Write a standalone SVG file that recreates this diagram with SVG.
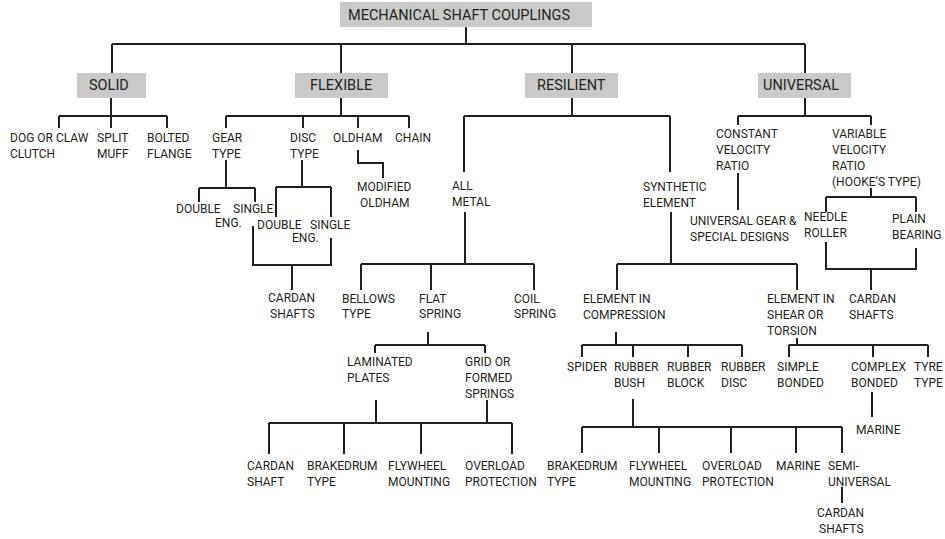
<svg xmlns="http://www.w3.org/2000/svg" width="945" height="539" viewBox="0 0 945 539">
<style>
text{font-family:Roboto,"Liberation Sans",sans-serif;font-size:12px;fill:#231f20}
.big{font-size:14.5px}
.box{fill:#c9c9c9}
#connectors path{fill:none;stroke:#231f20;stroke-width:2}
</style>
<rect width="945" height="539" fill="#fff"/>
<g id="connectors">
<path d="M466,27V44M112,44H805M112,44V73M341,44V73M572,44V73M805,44V73"/>
<path d="M111,98V116M59,116H167M59,116V128M111,116V128M167,116V128"/>
<path d="M341,98V116M226,116H409M226,116V128M303,116V128M358,116V128M409,116V128"/>
<path d="M226,160V188M199,188H255M199,188V202M255,188V202"/>
<path d="M302,160V187M276,187H331M276,187V217M331,187V217"/>
<path d="M253,226V265H331V238M292,265V290"/>
<path d="M358,150V163H383V178"/>
<path d="M572,98V116M464,116H670M464,116V172M670,116V172"/>
<path d="M465,212V264M361,264H534M361,264V290M431,264V290M534,264V290"/>
<path d="M428,332V345M375,345H485M375,345V353M485,345V353"/>
<path d="M376,400V423M487,400V423M269,423H512M269,423V454M344,423V454M421,423V454M512,423V454"/>
<path d="M671,212V264M617,264H797M617,264V290M797,264V290"/>
<path d="M616,332V345M582,345H742M582,345V357M633,345V357M688,345V357M742,345V357"/>
<path d="M797,338V345M789,345H928M789,345V357M873,345V357M928,345V357"/>
<path d="M872,392V417"/>
<path d="M633,399V427M582,427H842M582,427V453M659,427V453M731,427V453M796,427V453M842,427V453"/>
<path d="M842,487V503"/>
<path d="M805,98V116M738,116H871M738,116V125M871,116V125"/>
<path d="M738,173V210"/>
<path d="M871,188V197M826,197H916M826,197V212M916,197V212"/>
<path d="M826,242V269H916V248M871,269V290"/>
</g>
<g id="root"><rect class="box" x="340" y="2" width="252" height="25"/><text class="big" x="348" y="20">MECHANICAL SHAFT COUPLINGS</text></g>
<g id="solid"><rect class="box" x="77" y="73" width="69" height="25"/><text class="big" x="89" y="90">SOLID</text></g>
<g id="flexible"><rect class="box" x="295" y="73" width="93" height="25"/><text class="big" x="310" y="90">FLEXIBLE</text></g>
<g id="resilient"><rect class="box" x="525" y="73" width="93" height="25"/><text class="big" x="537" y="90">RESILIENT</text></g>
<g id="universal"><rect class="box" x="758" y="73" width="93" height="25"/><text class="big" x="763" y="90">UNIVERSAL</text></g>

<g id="dog"><text x="10" y="142">DOG OR CLAW</text><text x="10" y="158">CLUTCH</text></g>
<g id="split"><text x="97" y="142">SPLIT</text><text x="97" y="158">MUFF</text></g>
<g id="bolted"><text x="147" y="142">BOLTED</text><text x="147" y="158">FLANGE</text></g>
<g id="gear"><text x="212" y="142">GEAR</text><text x="212" y="158">TYPE</text></g>
<g id="disc"><text x="290" y="142">DISC</text><text x="290" y="158">TYPE</text></g>
<g id="oldham"><text x="333" y="142">OLDHAM</text></g>
<g id="chain"><text x="395" y="142">CHAIN</text></g>
<g id="modoldham"><text x="357" y="191">MODIFIED</text><text x="360" y="207">OLDHAM</text></g>
<g id="gdouble"><text x="176" y="213">DOUBLE</text></g>
<g id="gsingle"><text x="233" y="213">SINGLE</text><text x="215" y="227">ENG.</text></g>
<g id="ddouble"><text x="257" y="229">DOUBLE</text></g>
<g id="dsingle"><text x="310" y="229">SINGLE</text><text x="292" y="242">ENG.</text></g>
<g id="cardan1"><text x="268" y="302">CARDAN</text><text x="270" y="318">SHAFTS</text></g>

<g id="allmetal"><text x="452" y="190">ALL</text><text x="452" y="206">METAL</text></g>
<g id="synthetic"><text x="643" y="191">SYNTHETIC</text><text x="643" y="207">ELEMENT</text></g>
<g id="bellows"><text x="342" y="303">BELLOWS</text><text x="342" y="318">TYPE</text></g>
<g id="flat"><text x="419" y="303">FLAT</text><text x="419" y="318">SPRING</text></g>
<g id="coil"><text x="514" y="303">COIL</text><text x="514" y="318">SPRING</text></g>
<g id="laminated"><text x="347" y="366">LAMINATED</text><text x="347" y="382">PLATES</text></g>
<g id="grid"><text x="465" y="366">GRID OR</text><text x="465" y="382">FORMED</text><text x="465" y="398">SPRINGS</text></g>
<g id="mcardan"><text x="247" y="470">CARDAN</text><text x="247" y="486">SHAFT</text></g>
<g id="mbrake"><text x="307" y="470">BRAKEDRUM</text><text x="307" y="486">TYPE</text></g>
<g id="mfly"><text x="388" y="470">FLYWHEEL</text><text x="388" y="486">MOUNTING</text></g>
<g id="mover"><text x="465" y="470">OVERLOAD</text><text x="465" y="486">PROTECTION</text></g>

<g id="compression"><text x="583" y="303">ELEMENT IN</text><text x="583" y="319">COMPRESSION</text></g>
<g id="shear"><text x="767" y="303">ELEMENT IN</text><text x="767" y="319">SHEAR OR</text><text x="767" y="335">TORSION</text></g>
<g id="spider"><text x="567" y="371">SPIDER</text></g>
<g id="rbush"><text x="614" y="371">RUBBER</text><text x="614" y="387">BUSH</text></g>
<g id="rblock"><text x="667" y="371">RUBBER</text><text x="667" y="387">BLOCK</text></g>
<g id="rdisc"><text x="721" y="371">RUBBER</text><text x="721" y="387">DISC</text></g>
<g id="simple"><text x="777" y="371">SIMPLE</text><text x="777" y="387">BONDED</text></g>
<g id="complex"><text x="851" y="371">COMPLEX</text><text x="851" y="387">BONDED</text></g>
<g id="tyre"><text x="914" y="371">TYRE</text><text x="914" y="387">TYPE</text></g>
<g id="marine1"><text x="856" y="434">MARINE</text></g>
<g id="rbrake"><text x="547" y="470">BRAKEDRUM</text><text x="547" y="486">TYPE</text></g>
<g id="rfly"><text x="629" y="470">FLYWHEEL</text><text x="629" y="486">MOUNTING</text></g>
<g id="rover"><text x="702" y="470">OVERLOAD</text><text x="702" y="486">PROTECTION</text></g>
<g id="rmarine"><text x="776" y="470">MARINE</text></g>
<g id="semi"><text x="828" y="470">SEMI-</text><text x="828" y="486">UNIVERSAL</text></g>
<g id="cardan3"><text x="817" y="517">CARDAN</text><text x="819" y="533">SHAFTS</text></g>

<g id="constant"><text x="716" y="138">CONSTANT</text><text x="716" y="154">VELOCITY</text><text x="716" y="170">RATIO</text></g>
<g id="variable"><text x="832" y="138">VARIABLE</text><text x="832" y="154">VELOCITY</text><text x="832" y="170">RATIO</text><text x="832" y="186">(HOOKE’S TYPE)</text></g>
<g id="ugear"><text x="690" y="225">UNIVERSAL GEAR &amp;</text><text x="690" y="241">SPECIAL DESIGNS</text></g>
<g id="needle"><text x="804" y="221">NEEDLE</text><text x="804" y="237">ROLLER</text></g>
<g id="plain"><text x="892" y="223">PLAIN</text><text x="892" y="239">BEARING</text></g>
<g id="cardan2"><text x="849" y="303">CARDAN</text><text x="849" y="319">SHAFTS</text></g>
</svg>
